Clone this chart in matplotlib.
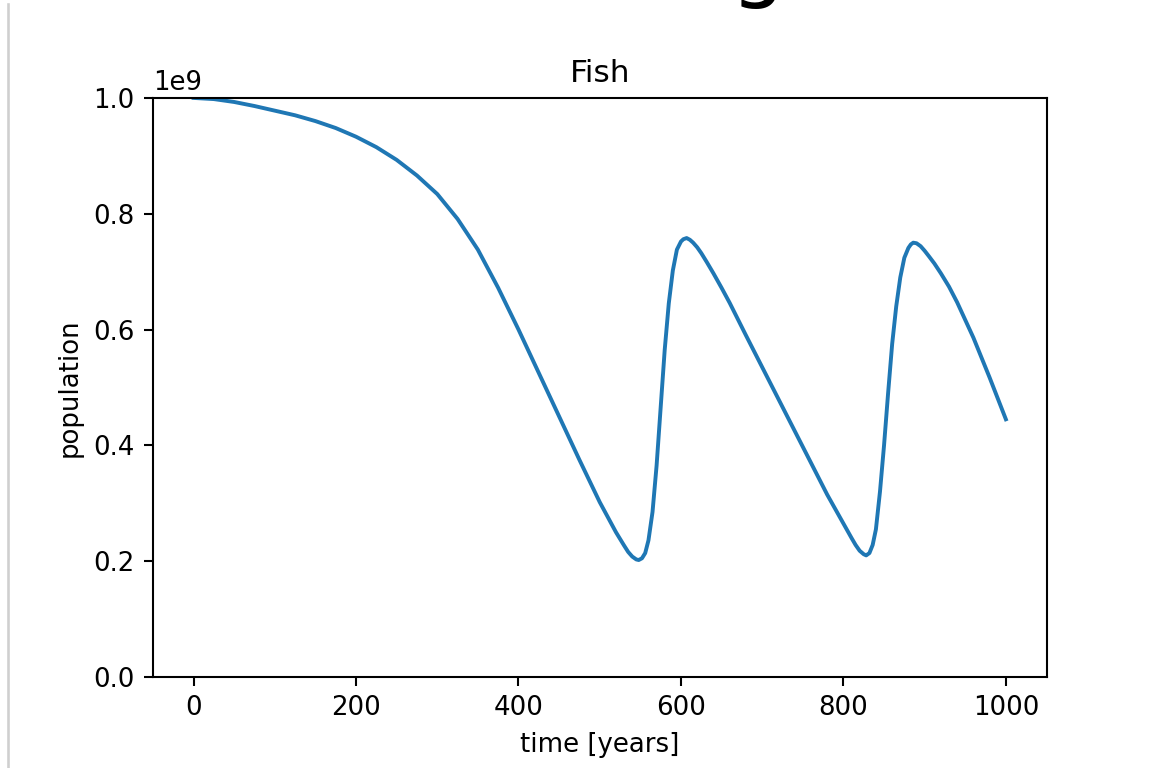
import matplotlib
matplotlib.use("Agg")
import matplotlib.pyplot as plt
from matplotlib.lines import Line2D
import numpy as np

# values (population in units of 1e9)
years = [0, 25, 50, 75, 100, 125, 150, 175, 200, 225, 250, 275, 300, 325, 350,
         375, 400, 425, 450, 475, 500, 520, 530, 535, 540, 545, 548, 552, 556,
         560, 565, 570, 575, 580, 585, 590, 595, 600, 603, 607, 611, 615, 620,
         625, 632, 640, 650, 660, 680, 700, 720, 740, 760, 780, 800, 810, 815,
         820, 825, 828, 832, 836, 840, 845, 850, 855, 860, 865, 870, 875, 880,
         883, 886, 890, 895, 900, 905, 912, 920, 930, 940, 960, 980, 1000]
fish = [1.000, 0.998, 0.993, 0.986, 0.978, 0.970, 0.960, 0.948, 0.933, 0.915,
        0.893, 0.866, 0.834, 0.791, 0.738, 0.672, 0.600, 0.525, 0.450, 0.375,
        0.302, 0.250, 0.227, 0.216, 0.208, 0.203, 0.202, 0.205, 0.214, 0.236,
        0.285, 0.365, 0.465, 0.565, 0.645, 0.702, 0.738, 0.752, 0.756, 0.758,
        0.755, 0.750, 0.742, 0.732, 0.716, 0.697, 0.672, 0.646, 0.590, 0.535,
        0.480, 0.425, 0.370, 0.315, 0.265, 0.240, 0.228, 0.218, 0.212, 0.210,
        0.214, 0.228, 0.255, 0.320, 0.400, 0.490, 0.575, 0.640, 0.690, 0.724,
        0.741, 0.747, 0.750, 0.749, 0.744, 0.736, 0.727, 0.714, 0.697, 0.674,
        0.647, 0.586, 0.517, 0.445]

title = "Fish"
xlabel = "time [years]"
ylabel = "population"

fig = plt.figure(figsize=(1150 / 187.2, 768 / 187.2), dpi=187.2)
ax = fig.add_axes([0.133, 0.1185, 0.777, 0.754])

ax.plot(years, np.array(fish) * 1e9, solid_joinstyle="round")
ax.set_xlim(-50, 1050)
ax.set_ylim(0, 1e9)
ax.set_xticks([0, 200, 400, 600, 800, 1000])
ax.set_title(title)
ax.set_xlabel(xlabel)
ax.set_ylabel(ylabel)

# screenshot leftovers: thin grey edge on the left and a cut-off letter on top
fig.add_artist(Line2D([8 / 1150, 8 / 1150], [0, 1 - 4 / 768],
                      transform=fig.transFigure, color="#cfcfcf", lw=1.0))
fig.text(757 / 1150, 1 + 9 / 768, "g", fontsize=33, ha="center",
         va="baseline", color="black")

fig.savefig("out.png", dpi=187.2)
